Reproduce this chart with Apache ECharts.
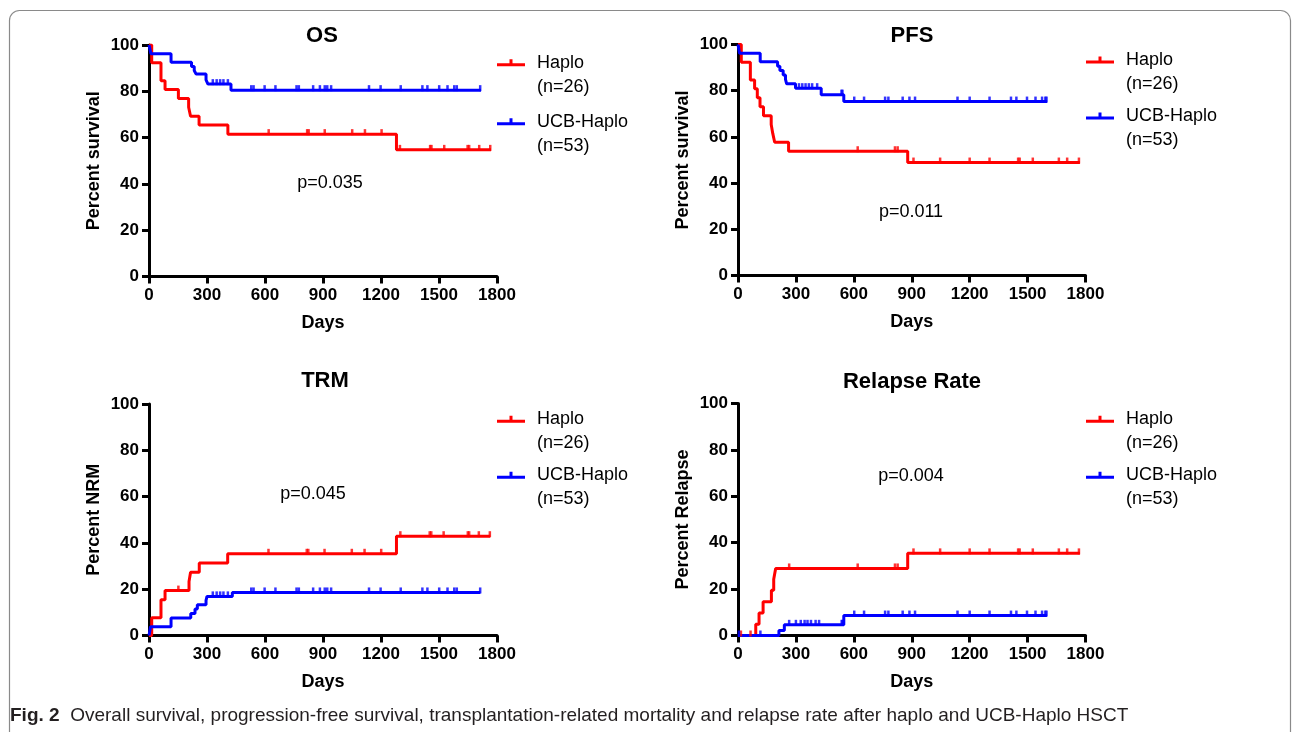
<!DOCTYPE html>
<html>
<head>
<meta charset="utf-8">
<script src="https://cdn.jsdelivr.net/npm/echarts@6/dist/echarts.min.js"></script>
<style>
html,body{margin:0;padding:0;background:#fff;}
#chart{width:1292px;height:732px;}
</style>
</head>
<body>
<div id="chart"></div>
<script>
// ---------- DATA ----------
const groupNames = ['Haplo', 'UCB-Haplo'];
const groupSizes = ['(n=26)', '(n=53)'];
const panelTitles = ['OS', 'PFS', 'TRM', 'Relapse Rate'];
const yAxisNames = ['Percent survival', 'Percent survival', 'Percent NRM', 'Percent Relapse'];
const pValues = ['p=0.035', 'p=0.011', 'p=0.045', 'p=0.004'];
const xAxisName = 'Days';
const dayTicks = [0, 300, 600, 900, 1200, 1500, 1800];
const percentTicks = [0, 20, 40, 60, 80, 100];
const caption = 'Overall survival, progression-free survival, transplantation-related mortality and relapse rate after haplo and UCB-Haplo HSCT';
const captionLabel = 'Fig. 2';

// OS
const osHaploSteps = [[0,100],[14,92.3],[62,84.6],[83,80.8],[152,76.9],[205,73.1],[215,69.2],[259,65.4],[408,61.5],[1280,54.7],[1769,54.7]];
const osHaploCens = [[619,61.5],[818,61.5],[826,61.5],[909,61.5],[1051,61.5],[1117,61.5],[1203,61.5],
  [1298,54.7],[1454,54.7],[1461,54.7],[1527,54.7],[1648,54.7],[1656,54.7],[1708,54.7],[1765,54.7]];
const osUcbSteps = [[0,100],[5,98.1],[10,96.2],[114,92.5],[220,90.7],[234,89.0],[243,87.5],[295,84.9],[305,83.1],[424,80.5],[1717,80.5]];
const osUcbCens = [[330,83.1],[350,83.1],[368,83.1],[385,83.1],[408,83.1],
  [529,80.5],[541,80.5],[598,80.5],[654,80.5],[763,80.5],[775,80.5],[849,80.5],[884,80.5],[909,80.5],[922,80.5],[942,80.5],
  [1138,80.5],[1198,80.5],[1302,80.5],[1414,80.5],[1440,80.5],[1501,80.5],[1544,80.5],[1579,80.5],[1592,80.5],[1713,80.5]];

// PFS
const pfsHaploSteps = [[0,100],[17,92.3],[64,84.6],[86,80.8],[100,76.9],[114,73.1],[132,69.2],[172,65.4],[180,61.5],[190,57.7],[262,53.8],[879,48.9],[1771,48.9]];
const pfsHaploCens = [[620,53.8],[813,53.8],[827,53.8],
  [909,48.9],[1047,48.9],[1200,48.9],[1303,48.9],[1451,48.9],[1459,48.9],[1527,48.9],[1662,48.9],[1705,48.9],[1766,48.9]];
const pfsUcbSteps = [[0,100],[4,98.1],[8,96.2],[115,92.5],[205,90.6],[217,88.7],[234,86.8],[246,84.9],[252,83.0],[298,81.1],[431,78.3],[548,75.3],[1601,75.3]];
const pfsUcbCens = [[316,81.1],[333,81.1],[350,81.1],[367,81.1],[384,81.1],[410,81.1],[536,78.3],[541,78.3],
  [602,75.3],[653,75.3],[762,75.3],[779,75.3],[853,75.3],[888,75.3],[917,75.3],[1137,75.3],[1200,75.3],[1303,75.3],
  [1414,75.3],[1442,75.3],[1497,75.3],[1541,75.3],[1575,75.3],[1592,75.3],[1598,75.3]];

// TRM
const trmHaploSteps = [[0,0],[14,7.7],[62,15.4],[83,19.4],[207,23.3],[215,27.3],[260,31.3],[407,35.3],[1280,42.9],[1765,42.9]];
const trmHaploCens = [[152,19.4],[618,35.3],[816,35.3],[824,35.3],[908,35.3],[1049,35.3],[1115,35.3],[1201,35.3],
  [1300,42.9],[1452,42.9],[1460,42.9],[1524,42.9],[1649,42.9],[1656,42.9],[1706,42.9],[1763,42.9]];
const trmUcbSteps = [[0,0],[8,3.8],[114,7.6],[216,9.5],[238,11.4],[250,13.3],[295,15.2],[300,16.9],[431,18.6],[1714,18.6]];
const trmUcbCens = [[330,16.9],[350,16.9],[368,16.9],[385,16.9],[408,16.9],
  [529,18.6],[541,18.6],[598,18.6],[654,18.6],[763,18.6],[775,18.6],[849,18.6],[884,18.6],[909,18.6],[922,18.6],[942,18.6],
  [1138,18.6],[1198,18.6],[1302,18.6],[1414,18.6],[1440,18.6],[1501,18.6],[1544,18.6],[1579,18.6],[1592,18.6],[1713,18.6]];

// Relapse
const relHaploSteps = [[0,0],[92,4.9],[109,9.7],[130,14.6],[173,19.5],[185,24.2],[195,28.9],[879,35.4],[1771,35.4]];
const relHaploCens = [[15,0],[65,0],[265,28.9],[620,28.9],[813,28.9],[827,28.9],
  [909,35.4],[1047,35.4],[1200,35.4],[1303,35.4],[1451,35.4],[1459,35.4],[1527,35.4],[1662,35.4],[1705,35.4],[1766,35.4]];
const relUcbSteps = [[0,0],[212,2.2],[240,4.6],[548,8.6],[1600,8.6]];
const relUcbCens = [[5,0],[116,0],[265,4.6],[300,4.6],[325,4.6],[345,4.6],[360,4.6],[378,4.6],[402,4.6],[420,4.6],[537,4.6],[541,4.6],
  [602,8.6],[653,8.6],[762,8.6],[779,8.6],[853,8.6],[888,8.6],[917,8.6],[1137,8.6],[1200,8.6],[1303,8.6],
  [1414,8.6],[1442,8.6],[1497,8.6],[1541,8.6],[1575,8.6],[1592,8.6],[1598,8.6]];

const panelData = [
  [osHaploSteps, osHaploCens, osUcbSteps, osUcbCens],
  [pfsHaploSteps, pfsHaploCens, pfsUcbSteps, pfsUcbCens],
  [trmHaploSteps, trmHaploCens, trmUcbSteps, trmUcbCens],
  [relHaploSteps, relHaploCens, relUcbSteps, relUcbCens]
];

// ---------- LAYOUT / STYLE ----------
const FONT = '"Liberation Sans", Arial, Helvetica, sans-serif';
const colors = ['#ff0000', '#0000ff'];
const grids = [
  {left: 149, top: 45, width: 348, height: 231.5},
  {left: 738, top: 44.5, width: 347.5, height: 231},
  {left: 149, top: 404, width: 348, height: 231.5},
  {left: 738, top: 403.5, width: 347.5, height: 232}
];
const titlePos = [[322, 36], [912, 36], [325, 381], [912, 382]];
const pPos = [[330, 183], [911, 212], [313, 494], [911, 476]];
// [left, top, itemGap]
const legendPos = [[497, 26.7, -13], [1086, 24, -16], [497, 383.3, -16], [1086, 383.3, -16]];

const xAxes = [], yAxes = [], series = [], legends = [], graphics = [];
const axisCommon = {
  axisLine: {show: true, onZero: false, lineStyle: {color: '#000', width: 3}},
  axisTick: {show: true, inside: false, length: 7, lineStyle: {color: '#000', width: 3}},
  axisLabel: {color: '#000', fontFamily: FONT, fontWeight: 'bold', fontSize: 17, margin: 10,
    formatter: function (v) { return String(v); }},
  splitLine: {show: false},
  nameTextStyle: {color: '#000', fontFamily: FONT, fontWeight: 'bold', fontSize: 18}
};

for (let i = 0; i < 4; i++) {
  xAxes.push(Object.assign({}, axisCommon, {
    gridIndex: i, type: 'value',
    min: dayTicks[0], max: dayTicks[dayTicks.length - 1], interval: dayTicks[1] - dayTicks[0],
    name: xAxisName, nameLocation: 'middle', nameGap: 38
  }));
  yAxes.push(Object.assign({}, axisCommon, {
    gridIndex: i, type: 'value',
    min: percentTicks[0], max: percentTicks[percentTicks.length - 1], interval: percentTicks[1] - percentTicks[0],
    name: yAxisNames[i], nameLocation: 'middle', nameGap: 46
  }));
  const d = panelData[i];
  for (let g = 0; g < 2; g++) {
    series.push({
      name: groupNames[g], type: 'line', step: 'end',
      xAxisIndex: i, yAxisIndex: i,
      data: d[g * 2], symbol: 'none', showSymbol: false,
      lineStyle: {color: colors[g], width: 3},
      itemStyle: {color: colors[g]},
      z: 3, silent: true
    });
    series.push({
      name: groupNames[g] + ' censored', type: 'scatter',
      xAxisIndex: i, yAxisIndex: i,
      data: d[g * 2 + 1], symbol: 'rect', symbolSize: [2.5, 6], symbolOffset: [0, -2],
      itemStyle: {color: colors[g]}, z: 4, silent: true
    });
  }
  legends.push({
    data: groupNames.slice(),
    orient: 'vertical', left: legendPos[i][0], top: legendPos[i][1],
    padding: 0, itemGap: legendPos[i][2],
    itemWidth: 28, itemHeight: 7,
    icon: 'path://M0,5H28V8H0Z M12.5,1H15.5V5H12.5Z',
    selectedMode: false,
    // leading blank line keeps the group name level with the legend line
    formatter: function (name) { return '\n' + name + '\n' + groupSizes[groupNames.indexOf(name)]; },
    textStyle: {color: '#000', fontFamily: FONT, fontSize: 18, lineHeight: 24, padding: [0, 0, 0, 7]}
  });
  graphics.push({
    type: 'text', x: titlePos[i][0], y: titlePos[i][1], silent: true,
    style: {text: panelTitles[i], fill: '#000', font: 'bold 22px ' + FONT,
      align: 'center', verticalAlign: 'middle', textAlign: 'center', textVerticalAlign: 'middle'}
  });
  graphics.push({
    type: 'text', x: pPos[i][0], y: pPos[i][1], silent: true,
    style: {text: pValues[i], fill: '#000', font: '18px ' + FONT,
      align: 'center', verticalAlign: 'middle', textAlign: 'center', textVerticalAlign: 'middle'}
  });
}

graphics.push({
  type: 'rect', silent: true, z: -10,
  shape: {x: 9.5, y: 10.5, width: 1281, height: 760, r: 10},
  style: {fill: 'none', stroke: '#8a8a8a', lineWidth: 1.2}
});
graphics.push({
  type: 'text', x: 10, y: 716, silent: true,
  style: {
    text: '{b|' + captionLabel + '}  ' + caption,
    fill: '#231f20', font: '19px ' + FONT,
    verticalAlign: 'middle', textVerticalAlign: 'middle',
    rich: {b: {fontWeight: 'bold', fontSize: 19, fontFamily: FONT, fill: '#231f20'}}
  }
});

const chart = echarts.init(document.getElementById('chart'), null, {renderer: 'canvas'});
chart.setOption({
  animation: false,
  backgroundColor: '#fff',
  grid: grids,
  xAxis: xAxes,
  yAxis: yAxes,
  legend: legends,
  series: series,
  graphic: graphics
});
</script>
</body>
</html>
